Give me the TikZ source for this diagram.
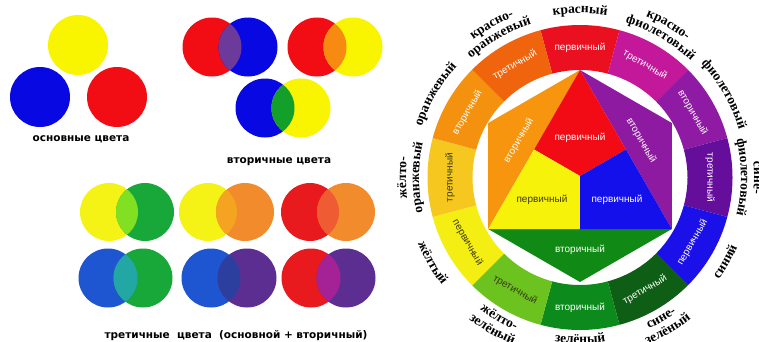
\documentclass[tikz,border=0pt]{standalone}
\usepackage{fontspec}
\setmainfont{Liberation Sans}
\newfontfamily\comicf{DejaVu Sans}
\newfontfamily\segf{Liberation Sans}
\newfontfamily\wheelf{Liberation Serif}
\usetikzlibrary{decorations.text}
% left circles
\definecolor{pY}{HTML}{F9F500}
\definecolor{pB}{HTML}{0808E2}
\definecolor{pR}{HTML}{F20D14}
\definecolor{lRB}{HTML}{6B3A9B}
\definecolor{lRY}{HTML}{F78A10}
\definecolor{lBY}{HTML}{12A02A}
\definecolor{tY}{HTML}{F5F216}
\definecolor{tG}{HTML}{18A83A}
\definecolor{tO}{HTML}{F18B2B}
\definecolor{tR}{HTML}{E81A1E}
\definecolor{tB}{HTML}{1E56D2}
\definecolor{tP}{HTML}{5D2E92}
\definecolor{lYG}{HTML}{80E021}
\definecolor{lYO}{HTML}{F4A421}
\definecolor{lRO}{HTML}{EF5B33}
\definecolor{lBG}{HTML}{22A7A5}
\definecolor{lBP}{HTML}{2D3F9E}
\definecolor{lRP}{HTML}{A52196}
% wheel
\definecolor{wR}{HTML}{EA1020}
\definecolor{wRV}{HTML}{C4189B}
\definecolor{wV}{HTML}{8F1AA4}
\definecolor{wBV}{HTML}{650E9C}
\definecolor{wB}{HTML}{1C10E8}
\definecolor{wBG}{HTML}{0E5E15}
\definecolor{wG}{HTML}{0D8A1C}
\definecolor{wYG}{HTML}{6CC21E}
\definecolor{wY}{HTML}{F5EE12}
\definecolor{wYO}{HTML}{F6C71F}
\definecolor{wO}{HTML}{F4920F}
\definecolor{wRO}{HTML}{F0640E}
\definecolor{iR}{HTML}{F20A14}
\definecolor{iY}{HTML}{F7F20A}
\definecolor{iB}{HTML}{1410EC}
\definecolor{iO}{HTML}{F7950E}
\definecolor{iP}{HTML}{8E1AA2}
\definecolor{iG}{HTML}{108A14}
\definecolor{darktxt}{HTML}{3A3A10}
\newcommand\wlab{\wheelf\bfseries\fontsize{13.5}{14}\selectfont}
\newcommand\toplab[3]{\path[decorate,decoration={text along path,text={|\wlab|#3},text align=center}] (#1+40:#2) arc[start angle=#1+40,end angle=#1-40,radius=#2];}
\newcommand\botlab[3]{\path[decorate,decoration={text along path,text={|\wlab|#3},text align=center}] (#1-40:#2) arc[start angle=#1-40,end angle=#1+40,radius=#2];}
\newcommand\cpair[7]{%
  \fill[#5] (#1,#3) circle[radius=#4];
  \fill[#6] (#2,#3) circle[radius=#4];
  \begin{scope}\clip (#1,#3) circle[radius=#4];
    \fill[#7] (#2,#3) circle[radius=#4];\end{scope}}
\begin{document}
\begin{tikzpicture}[x=1pt,y=1pt,
  lbl/.style={font=\comicf\bfseries\fontsize{10.5}{12}\selectfont,text=black,inner sep=0pt,anchor=base},
  seg/.style={font=\segf\fontsize{10}{11}\selectfont,inner sep=0pt}]
\useasboundingbox (0,0) rectangle (759,341);
\clip (0,0) rectangle (759,341);
\fill[white] (0,0) rectangle (759,341);
% primary
\fill[pY] (78,296) circle[radius=30];
\fill[pB] (40,244) circle[radius=30];
\fill[pR] (117,244) circle[radius=30];
\node[lbl] (prim) at (81,199.5) {основные цвета};
% secondary
\cpair{212}{248}{294}{29.5}{pR}{pB}{lRB}
\cpair{317}{353}{294}{29.5}{pR}{pY}{lRY}
\cpair{265}{301}{233}{29.5}{pB}{pY}{lBY}
\node[lbl] (sec) at (279,177.7) {вторичные цвета};
% tertiary
\cpair{109}{145}{129}{29}{tY}{tG}{lYG}
\cpair{208}{245}{129}{29}{tY}{tO}{lYO}
\cpair{310}{346}{129}{29}{tR}{tO}{lRO}
\cpair{108}{143}{63}{29.5}{tB}{tG}{lBG}
\cpair{211}{247}{63}{29.5}{tB}{tP}{lBP}
\cpair{311}{346}{63}{29.5}{tR}{tP}{lRP}
\node[lbl] (ter) at (236,3) {третичные\ \ цвета\ \ (основной + вторичный)};
% wheel
\begin{scope}[shift={(580,163.5)}]
\foreach \a/\col/\lab/\rot/\tc [count=\i] in {90/wR/первичный/0/white, 60/wRV/третичный/-30/white, 30/wV/вторичный/-60/white, 0/wBV/третичный/-90/white, -30/wB/первичный/60/white, -60/wBG/третичный/30/white, -90/wG/вторичный/0/white, -120/wYG/третичный/-30/darktxt, -150/wY/первичный/-60/darktxt, 180/wYO/третичный/90/darktxt, 150/wO/вторичный/60/white, 120/wRO/третичный/30/white}{
  \fill[\col] (\a+15:152.5pt) arc[start angle=\a+15,end angle=\a-15,radius=152.5pt] -- (\a-15:107.5pt) arc[start angle=\a-15,end angle=\a+15,radius=107.5pt] -- cycle;
  \node[seg,text=\tc,rotate=\rot] (seg\i) at (\a:130pt) {\lab};
}
% inner hexagon
\coordinate (T) at (0,107.5);
\coordinate (UL) at (-91.8,54.5);
\coordinate (L) at (-91.8,-51.5);
\coordinate (B) at (0,-104.5);
\coordinate (R) at (91.8,-51.5);
\coordinate (UR) at (91.8,54.5);
\coordinate (ML) at (-45.9,28);
\coordinate (MR) at (45.9,28);
\coordinate (MB) at (0,-51.5);
\coordinate (G) at (0,1.5);
\fill[iO] (T) -- (UL) -- (L) -- cycle;
\fill[iP] (T) -- (UR) -- (R) -- cycle;
\fill[iG] (L) -- (B) -- (R) -- cycle;
\fill[iR] (T) -- (ML) -- (G) -- (MR) -- cycle;
\fill[iY] (ML) -- (L) -- (MB) -- (G) -- cycle;
\fill[iB] (G) -- (MB) -- (R) -- (MR) -- cycle;
\node[seg,text=white] (inR) at (0,40) {первичный};
\node[seg,text=darktxt] (inY) at (-38,-22.5) {первичный};
\node[seg,text=white] (inB) at (37,-22.5) {первичный};
\node[seg,text=white,rotate=60] (inO) at (-61.2,36.8) {вторичный};
\node[seg,text=white,rotate=-60] (inP) at (61.2,36.8) {вторичный};
\node[seg,text=white] (inG) at (0,-72) {вторичный};
% outer labels
\toplab{90}{164.5pt}{красный}
\toplab{120}{174pt}{красно-}
\toplab{120}{161pt}{оранжевый}
\toplab{150}{166pt}{оранжевый}
\toplab{180}{174pt}{жёлто-}
\toplab{180}{161pt}{оранжевый}
\toplab{60}{174pt}{красно-}
\toplab{60}{161pt}{фиолетовый}
\toplab{30}{166pt}{фиолетовый}
\toplab{0}{174pt}{сине-}
\toplab{0}{161pt}{фиолетовый}
\botlab{-30}{172pt}{синий}
\botlab{-60}{166pt}{сине-}
\botlab{-60}{180pt}{зелёный}
\botlab{-90}{166pt}{зелёный}
\botlab{-120}{166pt}{жёлто-}
\botlab{-120}{180pt}{зелёный}
\botlab{-150}{175pt}{жёлтый}
\end{scope}
\end{tikzpicture}
\end{document}
